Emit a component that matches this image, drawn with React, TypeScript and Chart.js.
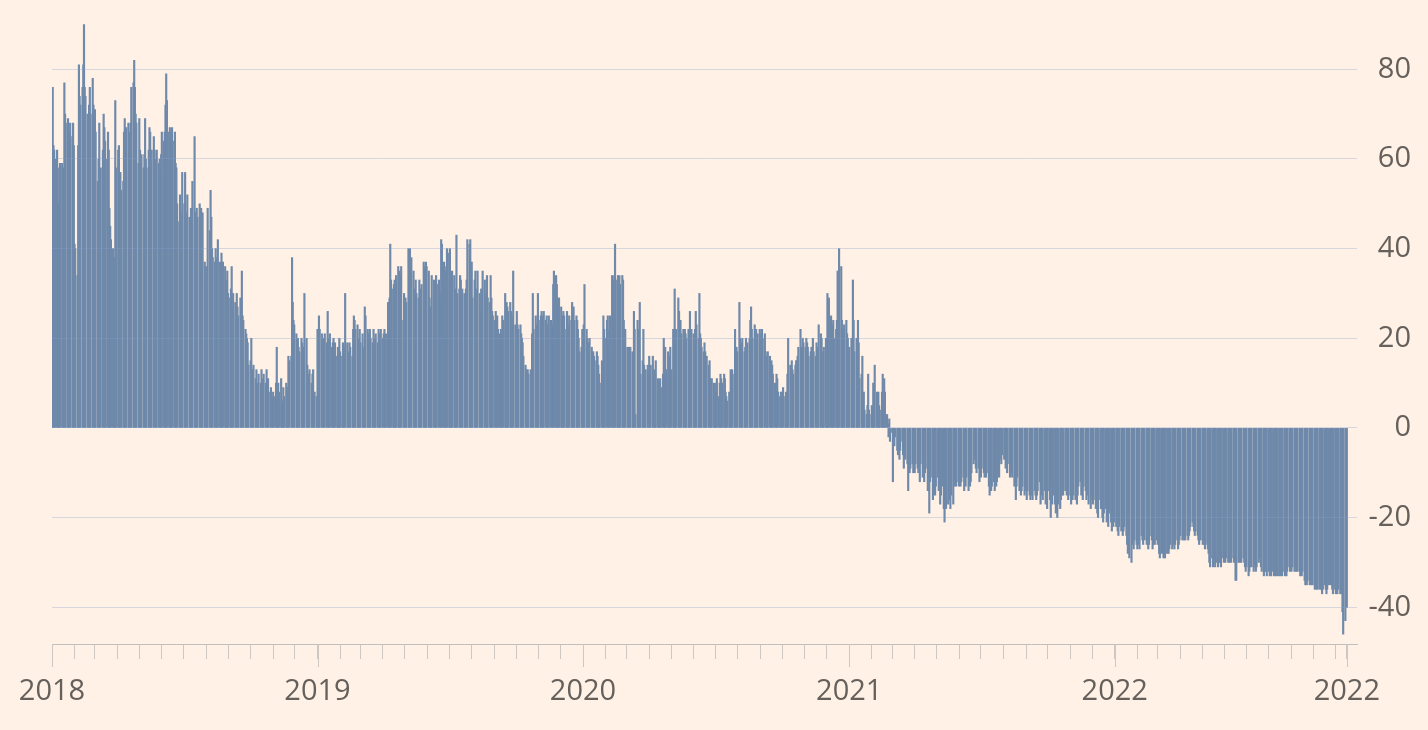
import React, { useEffect, useRef } from 'react';
import { Chart, registerables } from 'chart.js';

Chart.register(...registerables);

// ---- Data (business-day values) ----
const V2018 = [
  51, 76, 63, 62, 60, 62, 58, 50, 36, 59,
  59, 58, 55, 77, 70, 68, 69, 66, 64, 68,
  65, 68, 63, 41, 40, 34, 63, 81, 74, 72,
  76, 81, 90, 76, 74, 70, 65, 72, 76, 70,
  78, 72, 63, 71, 66, 55, 60, 68, 52, 58,
  62, 70, 67, 64, 60, 66, 62, 49, 45, 42,
  40, 38, 38, 73, 58, 62, 63, 56, 57, 53,
  55, 66, 69, 66, 67, 68, 62, 66, 68, 76,
  77, 82, 76, 70, 68, 59, 69, 62, 60, 61,
  58, 61, 69, 60, 58, 62, 67, 66, 58, 62,
  65, 62, 60, 57, 62, 59, 60, 57, 61, 66,
  64, 66, 72, 79, 73, 66, 67, 64, 66, 67,
  64, 66, 59, 58, 50, 46, 52, 48, 45, 57,
  50, 57, 48, 45, 52, 47, 45, 49, 46, 55,
  65, 48, 46, 49, 47, 50, 46, 49, 44, 48,
  37, 33, 36, 32, 49, 44, 53, 47, 40, 38,
  37, 40, 36, 38, 42, 37, 36, 39, 35, 37,
  36, 33, 31, 35, 30, 29, 31, 36, 27, 30,
  28, 26, 30, 27, 25, 29, 26, 35, 25, 24,
  22, 21, 20, 19, 14, 15, 20, 12, 13, 14,
  11, 13, 10, 9, 12, 10, 13, 9, 11, 12,
  10, 13, 9, 11, 8, 9, 7, 6, 8, 7,
  10, 18, 9, 10, 8, 11, 6, 5, 9, 7,
  10, 6, 9, 16, 15, 16, 38, 28, 24, 23,
  21, 19, 20, 18, 17, 20, 19, 18, 17, 30,
  20, 14, 12, 9, 13, 10, 12, 13, 7, 8,
  7,
];

const V2019 = [
  22, 21, 25, 22, 21, 19, 20, 18, 21, 19,
  26, 20, 19, 21, 18, 19, 20, 17, 19, 16,
  18, 16, 20, 17, 16, 19, 18, 16, 30, 19,
  17, 16, 19, 18, 16, 22, 25, 24, 22, 23,
  20, 18, 22, 19, 21, 18, 16, 27, 25, 22,
  21, 19, 22, 20, 19, 22, 18, 20, 21, 19,
  22, 18, 21, 22, 20, 21, 22, 20, 21, 28,
  26, 29, 41, 33, 31, 32, 33, 31, 34, 36,
  35, 33, 34, 36, 24, 30, 27, 29, 28, 40,
  39, 40, 37, 38, 35, 31, 29, 33, 30, 29,
  33, 31, 29, 32, 37, 36, 35, 37, 36, 35,
  29, 18, 27, 34, 33, 32, 27, 34, 32, 33,
  30, 29, 42, 41, 37, 35, 19, 36, 40, 39,
  40, 34, 33, 35, 34, 31, 29, 43, 30, 31,
  34, 33, 29, 31, 30, 29, 31, 33, 42, 41,
  42, 36, 37, 29, 33, 35, 28, 31, 35, 30,
  26, 31, 25, 35, 33, 28, 30, 34, 29, 28,
  34, 29, 26, 25, 24, 26, 24, 25, 22, 21,
  22, 21, 25, 24, 30, 26, 28, 27, 26, 28,
  26, 25, 24, 35, 23, 22, 26, 23, 22, 23,
  21, 20, 19, 16, 14, 13, 12, 13, 12, 13,
  12, 21, 30, 22, 25, 23, 22, 30, 24, 25,
  26, 24, 25, 26, 24, 25, 23, 22, 25, 24,
  22, 23, 32, 35, 34, 32, 29, 28, 29, 27,
  25, 24, 26, 25, 22, 26, 23, 22, 25, 24,
  28, 26, 27, 24, 25, 24, 22, 20, 17, 18,
  22,
];

const V2020 = [
  21, 23, 32, 22, 20, 18, 19, 20, 18, 17,
  17, 16, 15, 17, 16, 14, 12, 10, 15, 13,
  25, 22, 20, 24, 25, 18, 22, 25, 34, 33,
  33, 34, 41, 33, 34, 33, 34, 32, 34, 33,
  24, 19, 22, 18, 17, 18, 17, 18, 17, 16,
  26, 22, 3, 24, 22, 18, 28, 12, 15, 22,
  14, 12, 13, 14, 12, 16, 11, 14, 16, 12,
  13, 11, 15, 11, 9, 10, 11, 9, 12, 20,
  12, 18, 13, 17, 12, 16, 18, 13, 22, 20,
  31, 19, 22, 29, 26, 22, 24, 21, 22, 20,
  22, 21, 20, 22, 21, 26, 20, 22, 21, 20,
  22, 26, 23, 20, 30, 21, 20, 18, 17, 19,
  17, 15, 16, 14, 15, 11, 10, 11, 10, 8,
  8, 10, 11, 7, 10, 12, 11, 10, 12, 11,
  8, 7, 6, 8, 7, 13, 12, 13, 12, 22,
  14, 18, 17, 28, 20, 17, 19, 20, 17, 18,
  20, 17, 19, 20, 24, 27, 22, 20, 23, 21,
  22, 20, 21, 22, 20, 21, 22, 20, 21, 17,
  16, 15, 17, 16, 14, 15, 14, 12, 10, 9,
  12, 11, 8, 7, 8, 7, 8, 9, 7, 8,
  7, 12, 20, 14, 12, 15, 13, 12, 14, 15,
  15, 16, 18, 22, 17, 18, 20, 19, 18, 20,
  19, 18, 16, 17, 18, 16, 20, 17, 16, 19,
  18, 16, 23, 21, 20, 17, 16, 18, 20, 17,
  30, 28, 29, 25, 21, 23, 24, 20, 22, 24,
  35, 33, 40, 36, 24, 22, 20, 23, 24, 21,
  20, 17,
];

const V2021 = [
  18, 20, 17, 33, 24, 17, 20, 18, 24, 19,
  11, 12, 16, 3, 8, 4, 3, 5, 12, 4,
  3, 5, 4, 10, 3, 14, 8, 4, 8, 5,
  4, 8, 12, 7, 11, 8, 3, 1, -2, 2,
  -3, -1, -12, -3, -4, -2, -5, -6, -4, -7,
  -5, -3, -6, -9, -4, -7, -8, -14, -9, -10,
  -9, -8, -10, -9, -10, -8, -9, -10, -7, -12,
  -8, -11, -7, -12, -10, -9, -14, -11, -19, -12,
  -11, -16, -12, -11, -15, -13, -11, -14, -13, -17,
  -15, -13, -18, -21, -16, -18, -17, -14, -16, -18,
  -15, -17, -4, -13, -12, -13, -12, -13, -12, -13,
  -12, -11, -14, -12, -13, -11, -14, -12, -13, -12,
  -10, -8, -6, -7, -9, -10, -9, -12, -10, -11,
  -9, -10, -11, -10, -11, -10, -13, -15, -12, -14,
  -13, -12, -14, -11, -13, -12, -11, -7, -6, -8,
  -6, -7, -6, -9, -8, -10, -8, -11, -9, -10,
  -11, -13, -12, -16, -13, -11, -14, -13, -15, -14,
  -13, -15, -14, -13, -16, -14, -15, -16, -13, -15,
  -16, -14, -15, -16, -15, -14, -12, -17, -14, -15,
  -16, -14, -17, -15, -18, -14, -16, -20, -13, -17,
  -15, -17, -19, -16, -20, -17, -18, -16, -15, -14,
  -15, -14, -13, -15, -14, -16, -15, -17, -14, -16,
  -15, -16, -14, -17, -15, -13, -12, -15, -14, -16,
  -13, -14, -16, -15, -14, -17, -18, -15, -16, -17,
  -16, -18, -17, -19, -20, -16, -18, -17, -20, -21,
  -19, -18, -21, -20, -22, -19, -21, -23, -20, -22,
  -21,
];

const V2022 = [
  -22, -21, -23, -24, -22, -23, -21, -24, -23, -22,
  -24, -26, -28, -27, -29, -30, -21, -26, -27, -25,
  -26, -27, -25, -26, -27, -24, -25, -26, -24, -25,
  -26, -25, -27, -26, -24, -25, -27, -26, -25, -26,
  -25, -26, -25, -28, -29, -28, -27, -29, -28, -29,
  -28, -27, -28, -27, -26, -27, -25, -26, -27, -26,
  -25, -27, -26, -25, -24, -25, -24, -25, -24, -25,
  -24, -25, -24, -23, -22, -21, -22, -23, -24, -23,
  -24, -25, -26, -24, -25, -26, -25, -26, -27, -26,
  -27, -28, -30, -31, -29, -31, -30, -29, -31, -30,
  -31, -30, -29, -30, -31, -29, -30, -29, -30, -29,
  -30, -29, -30, -29, -30, -29, -30, -29, -34, -34,
  -30, -29, -30, -29, -30, -29, -30, -31, -32, -31,
  -33, -32, -31, -30, -31, -32, -31, -30, -32, -31,
  -30, -29, -29, -31, -32, -33, -32, -31, -32, -33,
  -32, -33, -32, -33, -32, -33, -32, -33, -32, -33,
  -33, -32, -33, -32, -33, -32, -33, -32, -33, -32,
  -31, -32, -31, -32, -31, -32, -31, -32, -31, -32,
  -32, -33, -32, -33, -32, -34, -35, -34, -35, -34,
  -35, -34, -35, -34, -35, -36, -35, -36, -35, -36,
  -36, -35, -36, -37, -36, -35, -36, -37, -36, -35,
  -35, -34, -35, -36, -37, -36, -37, -36, -37, -36,
  -37, -36, -37, -41, -46, -43, -40, -40,
];

const YEARS = [2018, 2019, 2020, 2021, 2022];
const YEAR_VALUES = [V2018, V2019, V2020, V2021, V2022];
const YEAR_LABELS = ['2018', '2019', '2020', '2021', '2022'];
const END_DATE = [2022, 10, 16]; // 16 Nov 2022, last observation
const END_LABEL = '2022';
const Y_TICKS = [-40, -20, 0, 20, 40, 60, 80];

// ---- Styling ----
const BG = '#FFF1E5';
const BAR_COLOR = 'rgb(111,137,170)';
const GRID_COLOR = 'rgba(130,160,205,0.32)';
const AXIS_COLOR = '#c2bebb';
const TICK_COLOR = '#cdc8c3';
const TEXT_COLOR = '#66605C';
const FONT = { family: "'Open Sans', 'Noto Sans', sans-serif", size: 29 };

const DAY = 86400000;
const T0 = Date.UTC(2018, 0, 1);
const dayNum = (y: number, m: number, d: number) => Math.round((Date.UTC(y, m, d) - T0) / DAY);
const END_DAY = dayNum(END_DATE[0], END_DATE[1], END_DATE[2]);
const X_MAX = 1794;
const Y_MIN = -48.2;
const Y_MAX = 91;

function businessDays(year: number, count: number): number[] {
  const out: number[] = [];
  let t = Date.UTC(year, 0, 1);
  while (out.length < count) {
    const wd = new Date(t).getUTCDay();
    if (wd !== 0 && wd !== 6) out.push(Math.round((t - T0) / DAY));
    t += DAY;
  }
  return out;
}

const points: { x: number; y: number }[] = [];
YEARS.forEach((yr, i) => {
  const vals = YEAR_VALUES[i];
  const days = businessDays(yr, vals.length);
  vals.forEach((v, j) => points.push({ x: days[j], y: v }));
});

const monthTicks: number[] = [];
YEARS.forEach((yr) => {
  for (let m = 0; m < 12; m++) {
    const d = dayNum(yr, m, 1);
    if (d <= END_DAY) monthTicks.push(d);
  }
});
monthTicks.push(END_DAY);

const majorLabels = new Map<number, string>();
YEARS.forEach((yr, i) => majorLabels.set(dayNum(yr, 0, 1), YEAR_LABELS[i]));
majorLabels.set(END_DAY, END_LABEL);

const majorTickPlugin = {
  id: 'majorTicks',
  afterDraw(chart: any) {
    const xs = chart.scales.x;
    const ctx = chart.ctx;
    ctx.save();
    ctx.strokeStyle = TICK_COLOR;
    ctx.lineWidth = 1;
    majorLabels.forEach((_label, d) => {
      const px = Math.round(xs.getPixelForValue(d)) + 0.5;
      ctx.beginPath();
      ctx.moveTo(px, xs.top);
      ctx.lineTo(px, xs.top + 23);
      ctx.stroke();
    });
    ctx.restore();
  },
};

export default function App() {
  const ref = useRef<HTMLCanvasElement>(null);

  useEffect(() => {
    document.body.style.margin = '0';
    document.body.style.background = BG;
    if (!ref.current) return;
    const chart = new Chart(ref.current, {
      type: 'bar',
      data: {
        datasets: [
          {
            data: points as any,
            backgroundColor: BAR_COLOR,
            borderWidth: 0,
            barThickness: 1.5,
          } as any,
        ],
      },
      options: {
        animation: false,
        responsive: false,
        layout: { padding: { top: 20, left: 52, right: 17, bottom: 0 } },
        plugins: { legend: { display: false }, tooltip: { enabled: false } },
        scales: {
          x: {
            type: 'linear',
            min: 0,
            max: X_MAX,
            offset: false,
            afterBuildTicks: (s: any) => {
              s.ticks = monthTicks.map((v) => ({ value: v }));
            },
            afterFit: (s: any) => {
              s.height = 86;
            },
            ticks: {
              autoSkip: false,
              maxRotation: 0,
              minRotation: 0,
              padding: 15,
              color: TEXT_COLOR,
              font: FONT,
              callback: (v: any) => majorLabels.get(Number(v)) ?? '',
            },
            grid: {
              display: true,
              drawOnChartArea: false,
              drawTicks: true,
              tickLength: 15,
              color: TICK_COLOR,
              offset: false,
            },
            border: { display: true, color: AXIS_COLOR, width: 1 },
          } as any,
          y: {
            type: 'linear',
            position: 'right',
            min: Y_MIN,
            max: Y_MAX,
            afterBuildTicks: (s: any) => {
              s.ticks = Y_TICKS.map((v) => ({ value: v }));
            },
            afterFit: (s: any) => {
              s.width = 54;
            },
            ticks: {
              padding: 0,
              crossAlign: 'far',
              color: TEXT_COLOR,
              font: FONT,
              callback: (v: any) => String(v),
            },
            grid: { color: GRID_COLOR, drawTicks: false, z: 1 },
            border: { display: false },
          } as any,
        },
      },
      plugins: [majorTickPlugin],
    });
    return () => chart.destroy();
  }, []);

  return (
    <div style={{ width: 1428, height: 730, background: BG }}>
      <canvas ref={ref} width={1428} height={730} style={{ display: 'block', width: 1428, height: 730 }} />
    </div>
  );
}
